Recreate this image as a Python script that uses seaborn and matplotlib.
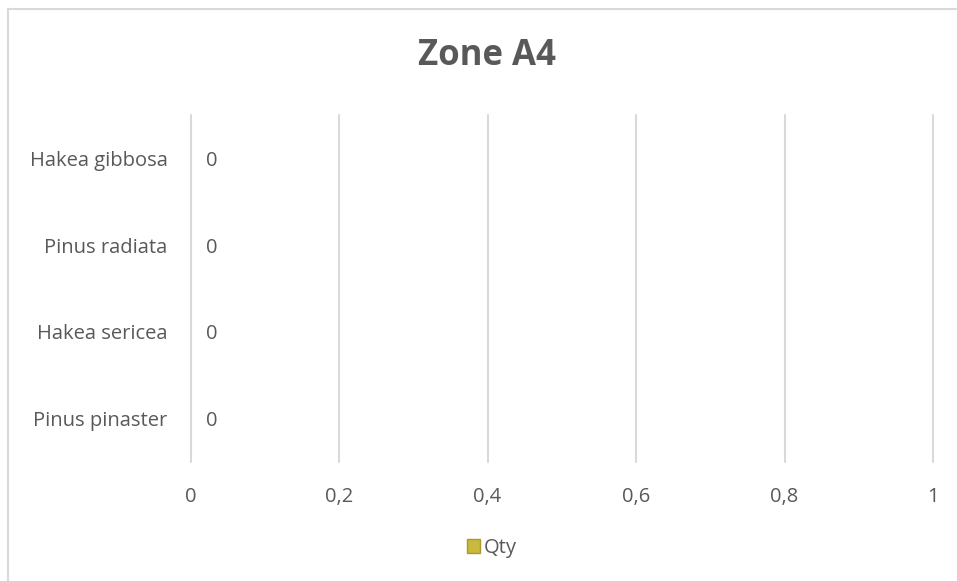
import matplotlib
matplotlib.use("Agg")
import matplotlib.pyplot as plt
import seaborn as sns
import pandas as pd
from matplotlib.patches import Patch

species = ["Hakea gibbosa", "Pinus radiata", "Hakea sericea", "Pinus pinaster"]
qty = [0, 0, 0, 0]
x_ticks = [0, 0.2, 0.4, 0.6, 0.8, 1]
x_tick_labels = ["0", "0,2", "0,4", "0,6", "0,8", "1"]

sns.set_theme(style="white")
plt.rcParams["font.family"] = ["Open Sans", "DejaVu Sans"]

df = pd.DataFrame({"Species": species, "Qty": qty})

W, H = 957, 581
fig = plt.figure(figsize=(W / 100, H / 100), dpi=100)
ax = fig.add_axes([190.5 / W, 1 - 462 / H, (933 - 190.5) / W, (462 - 115) / H])

bar_color = "#c9b93c"
grid_c = "#d9d9d9"
text_c = "#595959"
fs = 14.5

for xv in x_ticks:
    ax.axvline(xv, color=grid_c, lw=1.5, zorder=0, clip_on=False)

sns.barplot(data=df, x="Qty", y="Species", orient="h", color=bar_color, ax=ax,
            width=0.6, linewidth=0, edgecolor="none", zorder=2)

ax.set_xlim(0, 1)
ax.set_ylim(len(species) - 0.5, -0.5)
ax.set_xticks(x_ticks)
ax.set_xticklabels(x_tick_labels)
ax.set_xlabel("")
ax.set_ylabel("")
for s in ["top", "right", "bottom", "left"]:
    ax.spines[s].set_visible(False)

ax.tick_params(axis="both", length=0, colors=text_c, labelsize=fs)
ax.tick_params(axis="x", pad=18)
ax.tick_params(axis="y", pad=16.5)

for i, v in enumerate(qty):
    ax.text(v + 0.028, i, f"{v}", va="center_baseline", ha="center",
            color=text_c, fontsize=fs)

fig.text(487 / W, 1 - 56 / H, "Zone A4", ha="center", va="center",
         fontsize=25, fontweight="bold", color=text_c)

handles = [Patch(facecolor=bar_color, edgecolor="#a89a30", label="Qty")]
fig.legend(handles=handles, loc="center", bbox_to_anchor=(492 / W, 1 - 548 / H),
           frameon=False, fontsize=fs, labelcolor=text_c, handlelength=0.65,
           handleheight=0.65, handletextpad=0.2)

# chart area frame (top and left edges visible)
fig.add_artist(plt.Line2D([8 / W, 1.0], [1 - 9 / H, 1 - 9 / H],
                          transform=fig.transFigure, color="#d9d9d9", lw=1.5))
fig.add_artist(plt.Line2D([8 / W, 8 / W], [1 - 9 / H, 0],
                          transform=fig.transFigure, color="#d9d9d9", lw=1.5))

fig.savefig("out.png", dpi=100, facecolor="white")
